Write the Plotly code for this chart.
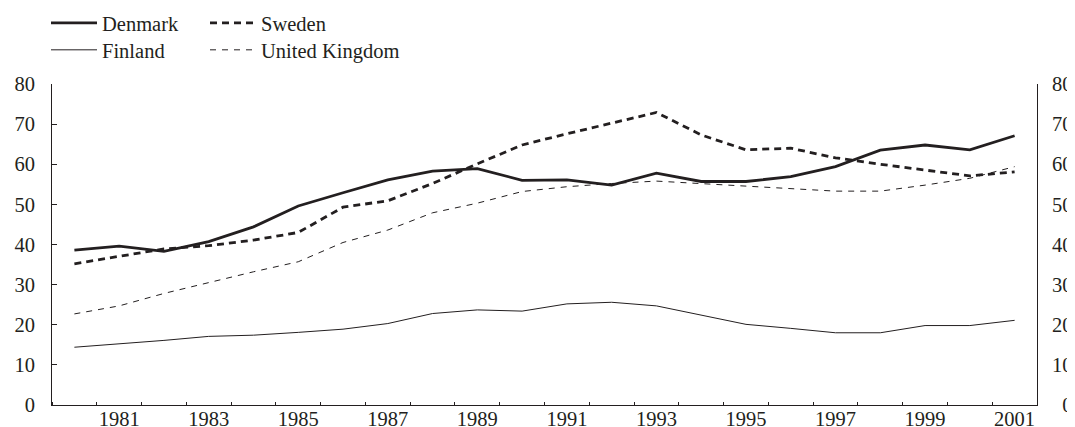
import plotly.graph_objects as go

years = list(range(1980, 2002))
denmark = [38.6, 39.6, 38.3, 40.7, 44.4, 49.6, 52.9, 56.1, 58.3, 58.9, 56.0,
           56.1, 54.8, 57.8, 55.7, 55.7, 56.9, 59.4, 63.5, 64.8, 63.6, 67.1]
sweden = [35.2, 37.0, 38.9, 39.7, 41.1, 43.0, 49.3, 50.9, 55.2, 60.1, 64.8,
          67.6, 70.3, 72.9, 67.3, 63.6, 64.0, 61.6, 60.0, 58.5, 57.1, 58.1]
finland = [14.4, 15.2, 16.1, 17.1, 17.4, 18.1, 18.9, 20.3, 22.8, 23.7, 23.4,
           25.2, 25.6, 24.7, 22.4, 20.1, 19.1, 18.0, 18.0, 19.8, 19.8, 21.1]
uk = [22.7, 24.7, 27.8, 30.5, 33.2, 35.7, 40.5, 43.6, 47.9, 50.3, 53.2,
      54.4, 55.2, 55.8, 55.2, 54.5, 54.0, 53.3, 53.3, 54.8, 56.5, 59.4]

xtick_vals = list(range(1981, 2002, 2))
xtick_text = [str(v) for v in xtick_vals]
ytick_vals = list(range(0, 81, 10))
ytick_text = [str(v) for v in ytick_vals]
# right-hand labels are right-aligned in the original: pad single digit with a figure space
ytick_text_right = [("\u2007" + t) if len(t) == 1 else t for t in ytick_text]

INK = "#231f20"
FONT = "Liberation Serif, Times New Roman, DejaVu Serif, serif"
FS = 20.5

# page body has an 8px margin: the figure starts at (8, 8) in the window
OFF = 8
W, H = 1075 - OFF, 427 - OFF

fig = go.Figure()
fig.add_trace(go.Scatter(x=years, y=denmark, name="Denmark", mode="lines",
                         line=dict(color=INK, width=2.8), legend="legend"))
fig.add_trace(go.Scatter(x=years, y=finland, name="Finland", mode="lines",
                         line=dict(color=INK, width=1), legend="legend2"))
fig.add_trace(go.Scatter(x=years, y=sweden, name="Sweden", mode="lines",
                         line=dict(color=INK, width=2.8, dash="7px,5px"), legend="legend3"))
fig.add_trace(go.Scatter(x=years, y=uk, name="United Kingdom", mode="lines",
                         line=dict(color=INK, width=1, dash="6px,6px"), legend="legend4"))
# invisible trace to carry the right axis
fig.add_trace(go.Scatter(x=[years[0]], y=[0], yaxis="y2", mode="lines",
                         showlegend=False, hoverinfo="skip",
                         line=dict(color="rgba(0,0,0,0)")))

legend_style = dict(font=dict(family=FONT, size=FS, color=INK),
                    bgcolor="rgba(0,0,0,0)", borderwidth=0,
                    xref="container", yref="container",
                    xanchor="left", yanchor="middle", itemwidth=46,
                    tracegroupgap=0)


def lx(px):
    return (px - OFF) / W


def ly(py):
    return 1 - (py - OFF) / H


fig.update_layout(
    width=W, height=H,
    margin=dict(l=52 - OFF, r=38, t=84 - OFF, b=22, autoexpand=False),
    paper_bgcolor="white", plot_bgcolor="white",
    font=dict(family=FONT, size=FS, color=INK),
    legend=dict(x=lx(46), y=ly(23), **legend_style),
    legend2=dict(x=lx(46), y=ly(50), **legend_style),
    legend3=dict(x=lx(205), y=ly(23), **legend_style),
    legend4=dict(x=lx(205), y=ly(50), **legend_style),
    xaxis=dict(range=[1979.5, 2001.5], tickmode="array", tickvals=xtick_vals,
               ticktext=xtick_text, ticks="", showgrid=False, zeroline=False,
               showline=True, linecolor=INK, linewidth=1, ticklabelstandoff=-5,
               minor=dict(tickmode="linear", tick0=1980.5, dtick=1,
                          ticks="inside", ticklen=3, tickcolor=INK, tickwidth=1,
                          showgrid=False)),
    yaxis=dict(range=[0, 80], tickmode="array", tickvals=ytick_vals,
               ticktext=ytick_text,
               ticks="inside", ticklen=5, tickcolor=INK, showgrid=False,
               zeroline=False, showline=True, linecolor=INK, linewidth=1,
               ticklabelstandoff=12),
    yaxis2=dict(range=[0, 80], tickmode="array", tickvals=ytick_vals,
                ticktext=ytick_text_right,
                overlaying="y", side="right", ticks="", showgrid=False,
                zeroline=False, showline=True, linecolor=INK, linewidth=1,
                ticklabelstandoff=10),
    showlegend=True,
)

fig.write_html("out.html")
